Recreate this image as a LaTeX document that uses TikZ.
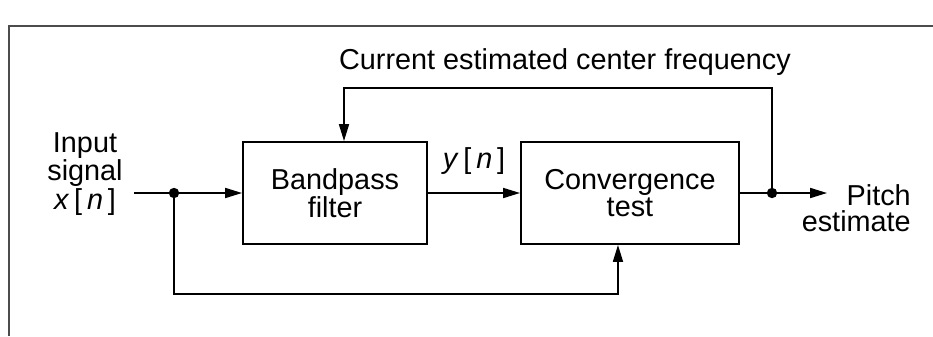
\documentclass[tikz,border=0pt]{standalone}
\usepackage{fontspec}
\setmainfont{Liberation Sans}
\usetikzlibrary{arrows.meta,positioning,calc}

\begin{document}
\begin{tikzpicture}[
    node distance=2.3cm,
    every node/.style={font=\fontsize{20.5}{19}\selectfont},
    block/.style={draw, line width=1.4pt, align=center, minimum height=2.55cm, inner sep=0pt},
    label/.style={align=center, inner sep=0pt},
    flow/.style={-{Triangle[length=4.2mm, width=2.5mm]}, line width=1.1pt},
    wire/.style={line width=1.1pt},
    dot/.style={circle, fill, inner sep=0pt, minimum size=2.6mm}
]
\useasboundingbox (0,0) rectangle (23.325,-8.4);
% frame
\draw[line width=2pt, black!70] (23.325,-0.65) -- (0.225,-0.65) -- (0.225,-8.4);

\node[block, minimum width=4.6cm] (bpf) at (8.375,-4.825) {Bandpass\\filter};
\node[block, minimum width=5.45cm, right=of bpf] (conv) {Convergence\\test};

\coordinate (in) at (3.35,-4.825);
\node[dot] (split) at (4.35,-4.825) {};
\node[dot] (tap) at (19.3,-4.825) {};
\coordinate (out) at (20.675,-4.825);
\coordinate (mid) at ($(bpf.east)!0.5!(conv.west)$);

\node[label] (inlbl) at (2.125,-4.35) {Input\\signal\\\textit{x}\,[\,\textit{n}\,]};
\node[label, align=right, anchor=north east] (pitch) at (22.775,-4.6) {Pitch\\estimate};
\node[label, above=0.45cm of mid] (yn) {\textit{y}\,[\,\textit{n}\,]};
\node[label] (cfreq) at (14.125,-1.55) {Current estimated center frequency};

\draw[wire] (in) -- (split);
\draw[flow] (split) -- (bpf);
\draw[flow] (bpf) -- (conv);
\draw[wire] (conv) -- (tap);
\draw[flow] (tap) -- (out);
\draw[flow] (tap.center) -- ++(0,2.625) -| ([xshift=0.225cm]bpf.north);
\draw[flow] (split.center) -- ++(0,-2.525) -| ([xshift=-0.3cm]conv.south);
\end{tikzpicture}
\end{document}
